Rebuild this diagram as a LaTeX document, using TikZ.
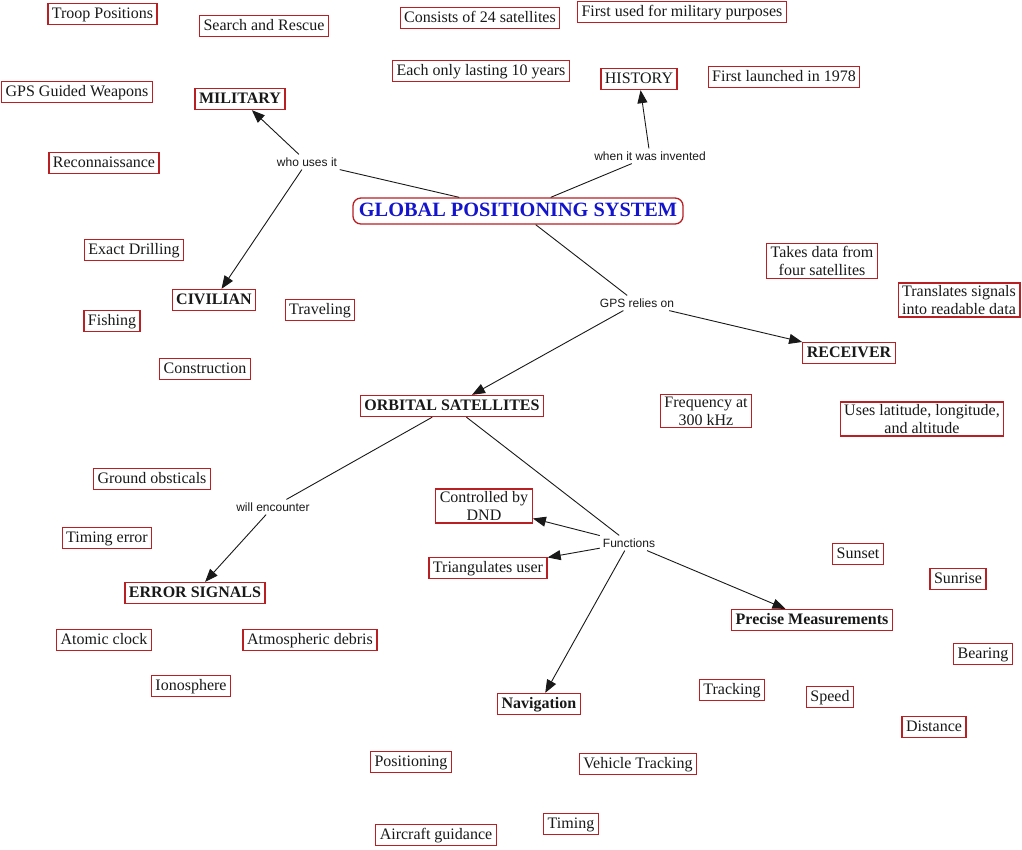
\documentclass[tikz,border=0pt]{standalone}
\usepackage{fontspec}
\setmainfont{Liberation Serif}
\setsansfont{Liberation Sans}
\usetikzlibrary{arrows.meta}
\definecolor{boxred}{RGB}{185,32,36}
\definecolor{gpsblue}{RGB}{20,20,205}
\definecolor{ink}{RGB}{25,25,25}
\tikzset{
  base/.style={draw=boxred, line width=1.3pt, fill=white, inner xsep=4pt, inner ysep=3pt, text=ink,
    font=\fontsize{16}{18}\selectfont},
  box/.style={base, text height=11.5pt, text depth=3.5pt},
  twobox/.style={base, align=center, inner ysep=2.5pt},
  bbox/.style={box, font=\fontsize{16}{18}\selectfont\bfseries},
  lab/.style={font=\sffamily\fontsize{12}{14}\selectfont, inner sep=3pt, text=ink},
  conn/.style={draw=ink, line width=0.9pt},
  arr/.style={conn, -{Triangle[length=13pt,width=10pt]}},
}
\begin{document}
\begin{tikzpicture}[x=1pt,y=-1pt]
\useasboundingbox[fill=white] (0,0) rectangle (1022,849);

% main
\node[draw=boxred, line width=1.3pt, rounded corners=8pt, fill=white, text=gpsblue,
  font=\fontsize{20.3}{22}\selectfont\bfseries, inner xsep=6pt, inner ysep=4pt,
  text height=14pt, text depth=4pt] (gps) at (518,211) {GLOBAL POSITIONING SYSTEM};

% categories
\node[bbox] (mil) at (240,99) {MILITARY};
\node[bbox] (civ) at (214,300) {CIVILIAN};
\node[box]  (his) at (639,79) {HISTORY};
\node[bbox] (orb) at (452,406) {ORBITAL SATELLITES};
\node[bbox] (rec) at (849,353) {RECEIVER};
\node[bbox] (err) at (195,593) {ERROR SIGNALS};
\node[bbox] (nav) at (539,704) {Navigation};
\node[bbox] (pre) at (812,620) {Precise Measurements};

% linking labels
\node[lab] (who) at (307,162) {who uses it};
\node[lab] (when) at (650,156) {when it was invented};
\node[lab] (rel) at (637,303) {GPS relies on};
\node[lab] (enc) at (273,507) {will encounter};
\node[lab] (fun) at (629,543) {Functions};

% leaf boxes
\node[box] (troop) at (102.5,14) {Troop Positions};
\node[box] (search) at (264,26) {Search and Rescue};
\node[box] (guided) at (77,92) {GPS Guided Weapons};
\node[box] (recon) at (104,163) {Reconnaissance};
\node[box] (cons24) at (480,18) {Consists of 24 satellites};
\node[box] (first) at (682,12) {First used for military purposes};
\node[box] (each) at (481,71) {Each only lasting 10 years};
\node[box] (launch) at (784,77) {First launched in 1978};
\node[box] (drill) at (134,250) {Exact Drilling};
\node[box] (fish) at (112,321) {Fishing};
\node[box] (trav) at (320,310) {Traveling};
\node[box] (constr) at (205,369) {Construction};
\node[twobox] (takes) at (822,261) {Takes data from\\four satellites};
\node[twobox] (trans) at (959,300) {Translates signals\\into readable data};
\node[twobox] (freq) at (706,411) {Frequency at\\300 kHz};
\node[twobox] (uses) at (922,419) {Uses latitude, longitude,\\and altitude};
\node[box] (ground) at (152,479) {Ground obsticals};
\node[box] (timerr) at (107,538) {Timing error};
\node[box] (atomic) at (104,640) {Atomic clock};
\node[box] (atmo) at (310,640) {Atmospheric debris};
\node[box] (iono) at (191,686) {Ionosphere};
\node[twobox] (dnd) at (484,506) {Controlled by\\DND};
\node[box] (tri) at (488,568) {Triangulates user};
\node[box] (sunset) at (858,554) {Sunset};
\node[box] (sunrise) at (958,579) {Sunrise};
\node[box] (bear) at (983,654) {Bearing};
\node[box] (track) at (732,690) {Tracking};
\node[box] (speed) at (830,697) {Speed};
\node[box] (dist) at (934,727) {Distance};
\node[box] (pos) at (411,762) {Positioning};
\node[box] (veh) at (638,764) {Vehicle Tracking};
\node[box] (timing) at (571,824) {Timing};
\node[box] (air) at (436,835) {Aircraft guidance};

% connectors
\draw[conn] (gps) -- (who);
\draw[arr] (who) -- (mil);
\draw[arr] (who) -- (civ);
\draw[conn] (gps) -- (when);
\draw[arr] (when) -- (his);
\draw[conn] (gps) -- (rel);
\draw[arr] (rel) -- (rec);
\draw[arr] (rel) -- (orb);
\draw[conn] (orb) -- (enc);
\draw[arr] (enc) -- (err);
\draw[conn] (orb) -- (fun);
\draw[arr] (fun) -- (dnd);
\draw[arr] (fun) -- (tri);
\draw[arr] (fun) -- (nav);
\draw[arr] (fun) -- (pre);
\end{tikzpicture}
\end{document}
